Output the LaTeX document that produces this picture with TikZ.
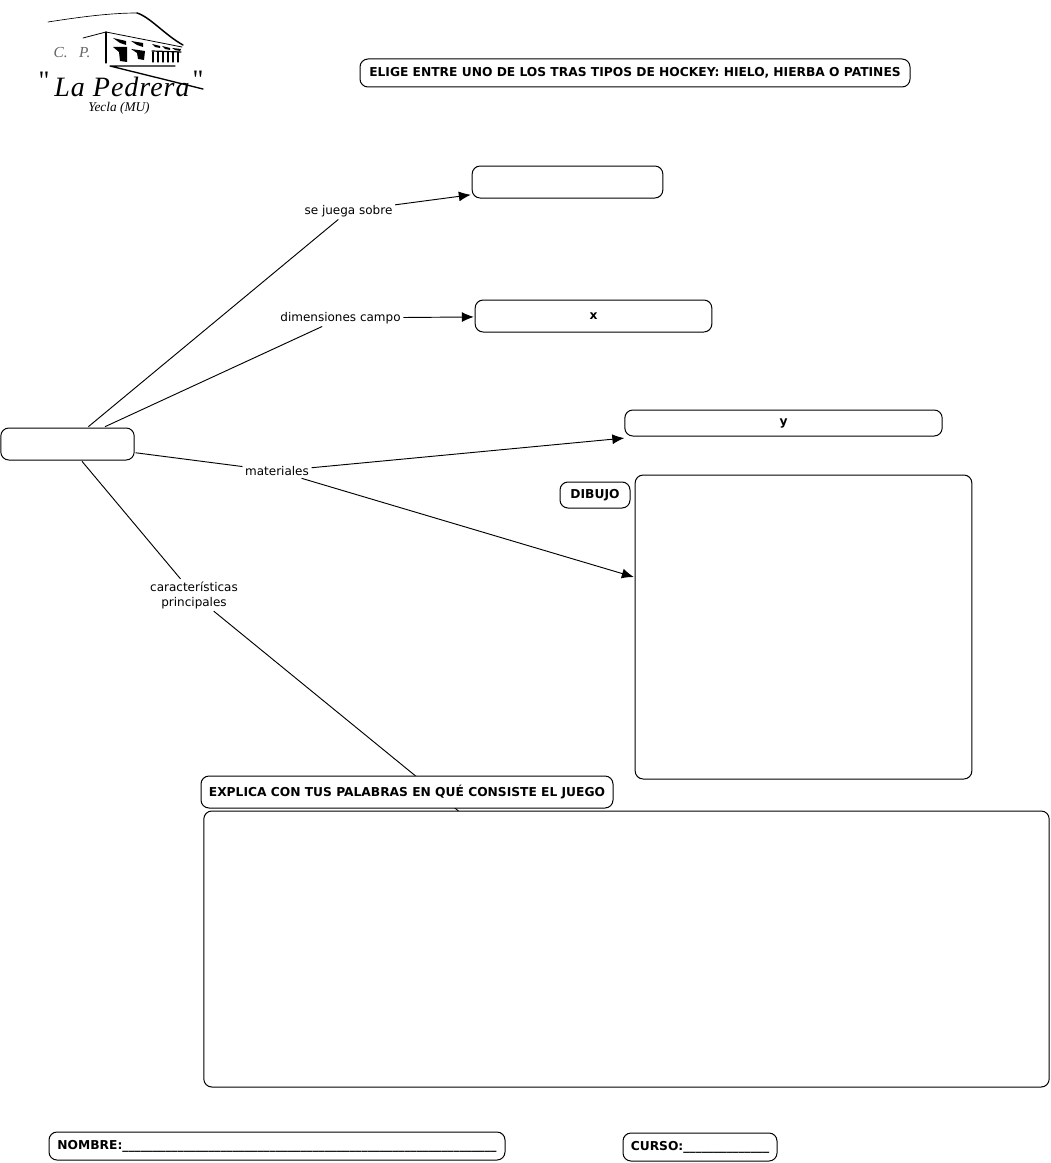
\documentclass[tikz,border=0pt]{standalone}
\usepackage{fontspec}
\setmainfont{DejaVu Sans}
\newfontfamily\logofont{Liberation Serif}
\usetikzlibrary{arrows.meta}
\newcommand{\blanks}[1]{\foreach \i in {1,...,#1}{\_}}
\newcommand{\nudge}[2]{\raisebox{#1}{#2}}
\tikzset{
  x=0.75pt,y=-0.75pt,
  boxnode/.style={draw=black,fill=white,rounded corners=6pt,line width=0.75pt,inner sep=0pt,font=\fontsize{9.2pt}{11pt}\selectfont\bfseries,outer sep=1pt},
  lab/.style={inner sep=2pt,outer sep=0pt,align=center,font=\fontsize{9pt}{11.2pt}\selectfont},
  link/.style={line width=0.7pt,draw=black},
  arrowlink/.style={link,-{Latex[length=9pt,width=7.5pt]}},
  logoline/.style={line width=0.6pt,draw=black,line join=round,line cap=round},
  logoblack/.style={fill=black,draw=none},
}
\begin{document}
\begin{tikzpicture}
\useasboundingbox (0,0) rectangle (1050,1163);
% logo
\draw[logoline,line width=0.5pt] (48,22) .. controls (80,17) and (110,13) .. (137,13);
\draw[logoline,line width=1.1pt] (137,13) .. controls (150,17) and (165,35) .. (183,45);
\draw[logoline] (83,38) -- (106,32) -- (182,47);
\draw[logoline,line width=0.9pt] (106,32) -- (106,63);
\fill[logoblack] (113,38) -- (126,41) -- (126,45) -- (120,43) -- cycle;
\fill[logoblack] (131,41) -- (143,43) -- (143,47) -- (137,45) -- cycle;
\fill[logoblack] (152,44) -- (160,46) -- (160,48) -- (155,47) -- cycle;
\fill[logoblack] (162,46) -- (170,48) -- (170,50) -- (165,49) -- cycle;
\fill[logoblack] (172,48) -- (181,49) -- (180,51) -- (175,50) -- cycle;
\fill[logoblack] (113,47) -- (127,47) -- (127,62) -- (120,61) -- (119,52) -- cycle;
\fill[logoblack] (131,49) -- (145,51) -- (144,60) -- (138,59) -- (137,53) -- cycle;
\draw[logoline,line width=0.9pt] (152,51) -- (181,52);
\foreach \p in {153,158,163,168,173,178}{\draw[logoline,line width=0.9pt] (\p,52) -- (\p,62);}
\draw[logoline,line width=1pt] (175,66) -- (110,66) -- (203,89);
\node[text=black!60,inner sep=0pt] (cp) at (72,53) {\logofont\itshape\fontsize{11.5pt}{13pt}\selectfont C.\ \ \ P.};
\node[inner sep=0pt] (qleft) at (44,81) {\logofont\fontsize{20pt}{22pt}\selectfont "};
\node[inner sep=0pt] (qright) at (198,80) {\logofont\fontsize{20pt}{22pt}\selectfont "};
\node[inner sep=0pt] (pedrera) at (122,87) {\logofont\itshape\fontsize{21pt}{24pt}\addfontfeature{LetterSpace=3.5}\selectfont La Pedrera};
\node[inner sep=0pt] (yecla) at (119,108) {\logofont\itshape\fontsize{10pt}{12pt}\selectfont Yecla (MU)};
% boxes
\node[boxnode,minimum width=412.5pt,minimum height=21pt] (title) at (635,73) {\nudge{0.75pt}{ELIGE ENTRE UNO DE LOS TRAS TIPOS DE HOCKEY: HIELO, HIERBA O PATINES}};
\node[boxnode,minimum width=143pt,minimum height=24pt] (surface) at (567.5,182) {};
\node[boxnode,minimum width=177.5pt,minimum height=24pt] (field) at (593.5,316) {\nudge{-1.4pt}{x}};
\node[boxnode,minimum width=100pt,minimum height=24pt] (root) at (67.5,444) {};
\node[boxnode,minimum width=238pt,minimum height=19.5pt] (mat) at (783.5,423) {\nudge{-1.2pt}{y}};
\node[boxnode,minimum width=252.5pt,minimum height=228pt] (draw) at (803.5,627) {};
\node[boxnode,minimum width=52.5pt,minimum height=19.5pt] (dibujo) at (595,495) {\nudge{-1.6pt}{DIBUJO}};
\node[boxnode,minimum width=634pt,minimum height=207pt,outer sep=0pt] (big) at (626.5,949) {};
\node[boxnode,minimum width=342pt,minimum height=21pt] (nombre) at (277,1146) {\nudge{-0.6pt}{NOMBRE:\blanks{61}}};
\node[boxnode,minimum width=115.5pt,minimum height=21pt] (curso) at (700,1147) {CURSO:\blanks{14}};
% labels
\node[lab] (l1) at (348.5,211) {se juega sobre};
\node[lab] (l2) at (340.5,318) {dimensiones campo};
\node[lab] (l3) at (277,471) {materiales};
\node[lab] (l4) at (194,595) {características\\principales};
% connectors
\draw[link] (root) -- (l1);
\draw[arrowlink] (l1) -- (surface);
\draw[link] (root) -- (l2);
\draw[arrowlink] (l2) -- (field);
\draw[link] (root) -- (l3);
\draw[arrowlink,shorten >=6pt] (l3) -- (mat);
\draw[arrowlink] (l3) -- (draw);
\draw[link] (root) -- (l4);
\draw[link] (l4) -- (big);
\node[boxnode,minimum width=309pt,minimum height=24pt] (explica) at (407,792) {\nudge{-1.1pt}{EXPLICA CON TUS PALABRAS EN QUÉ CONSISTE EL JUEGO}};
\end{tikzpicture}
\end{document}
